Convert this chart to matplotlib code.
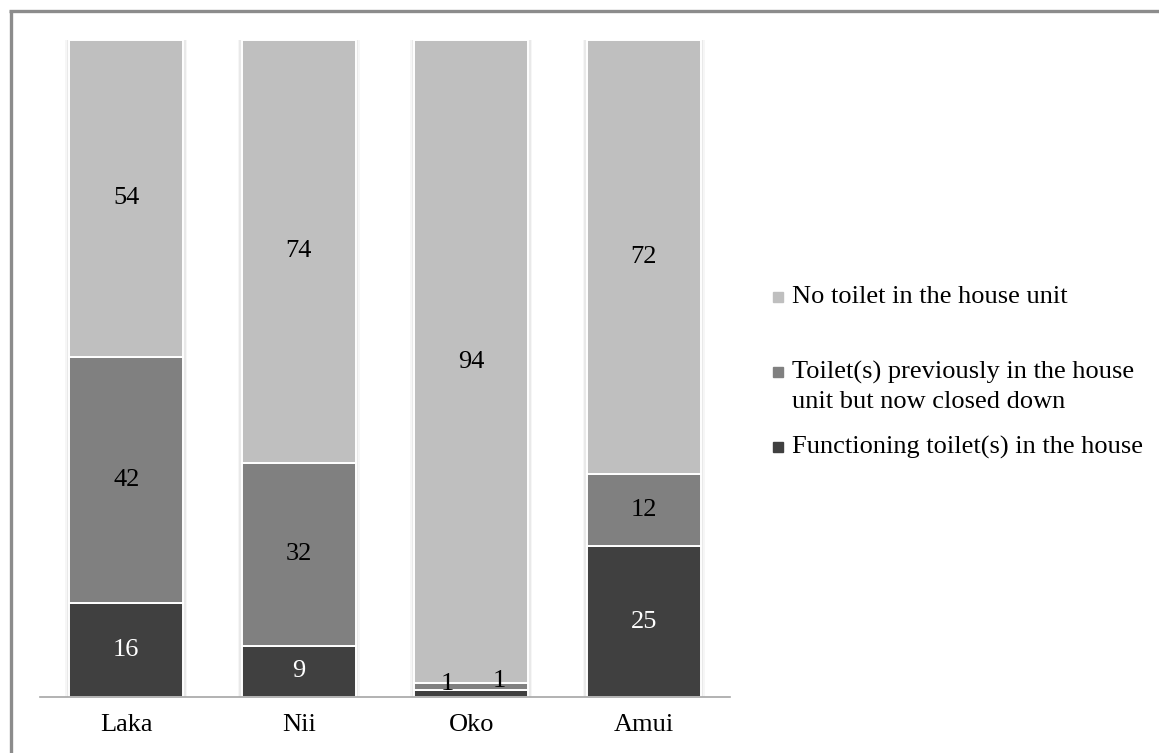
import matplotlib
matplotlib.use("Agg")
import matplotlib.pyplot as plt
from matplotlib.lines import Line2D
from matplotlib.patches import Rectangle
import numpy as np

plt.rcParams['font.family'] = ['Liberation Serif', 'DejaVu Serif']

# Survey counts per community
communities = ["Laka", "Nii", "Oko", "Amui"]
functioning = [16, 9, 1, 25]
closed_down = [42, 32, 1, 12]
no_toilet = [54, 74, 94, 72]

series_labels = [
    "Functioning toilet(s) in the house",
    "Toilet(s) previously in the house\nunit but now closed down",
    "No toilet in the house unit",
]
series_colors = ["#404040", "#808080", "#BFBFBF"]
label_colors = ["white", "black", "black"]

W, H = 1159, 753
fig = plt.figure(figsize=(W / 100, H / 100), dpi=100)

# Outer frame (left and top edges visible)
fig.add_artist(Line2D([10.5 / W, 10.5 / W], [0, 1 - 10.5 / H], color="#8C8C8C", lw=2.4,
                      transform=fig.transFigure, solid_capstyle="butt"))
fig.add_artist(Line2D([9.3 / W, 1], [1 - 11 / H, 1 - 11 / H], color="#8C8C8C", lw=2.4,
                      transform=fig.transFigure, solid_capstyle="butt"))

ax = fig.add_axes([40 / W, (H - 697) / H, 690 / W, (697 - 40) / H])
ax.set_xlim(-0.5, 3.5)
ax.set_ylim(0, 100)

series = [np.array(functioning, float), np.array(closed_down, float), np.array(no_toilet, float)]
totals = sum(series)
shares = [s / totals * 100 for s in series]

x = np.arange(len(communities))
width = 0.66

# soft shadow around the columns
for k, a in [(0.05, 0.035), (0.03, 0.05), (0.015, 0.07)]:
    ax.bar(x, 100, width=width + k, color="black", alpha=a, linewidth=0, zorder=1)

bottom = np.zeros(len(communities))
for vals, share, col, lc in zip(series, shares, series_colors, label_colors):
    ax.bar(x, share, width=width, bottom=bottom, color=col, edgecolor="white",
           linewidth=1.4, zorder=2)
    for i in range(len(communities)):
        if vals[i] >= 5:
            ax.text(x[i], bottom[i] + share[i] / 2, f"{int(vals[i])}", ha="center",
                    va="center", fontsize=19, color=lc, zorder=3)
    bottom += share

# small Oko segments: labels set to the side so they don't collide
oko = communities.index("Oko")
ax.text(x[oko] - 0.14, 2.0, f"{functioning[oko]}", ha="center", va="center",
        fontsize=19, color="black", zorder=3)
ax.text(x[oko] + 0.16, 2.5, f"{closed_down[oko]}", ha="center", va="center",
        fontsize=19, color="black", zorder=3)

for s in ["top", "right", "left"]:
    ax.spines[s].set_visible(False)
ax.spines["bottom"].set_color("#A6A6A6")
ax.spines["bottom"].set_linewidth(1.2)
ax.spines["bottom"].set_zorder(4)
ax.set_yticks([])
ax.set_xticks(x)
ax.set_xticklabels(communities, fontsize=19)
ax.tick_params(axis="x", length=0, pad=12)
ax.patch.set_alpha(0)

# legend on the right: marker next to the first line of each entry
legend_rows = [
    (series_labels[2], series_colors[2], 297),
    (series_labels[1], series_colors[1], 372),
    (series_labels[0], series_colors[0], 447),
]
line_step = 30
for text, col, yc in legend_rows:
    fig.add_artist(Rectangle((773 / W, (H - yc - 5) / H), 10 / W, 10 / H,
                             color=col, transform=fig.transFigure))
    for j, line in enumerate(text.split("\n")):
        fig.text(792 / W, (H - yc - j * line_step) / H, line, fontsize=19,
                 va="center", ha="left")

fig.savefig("out.png", dpi=100, facecolor="white")
